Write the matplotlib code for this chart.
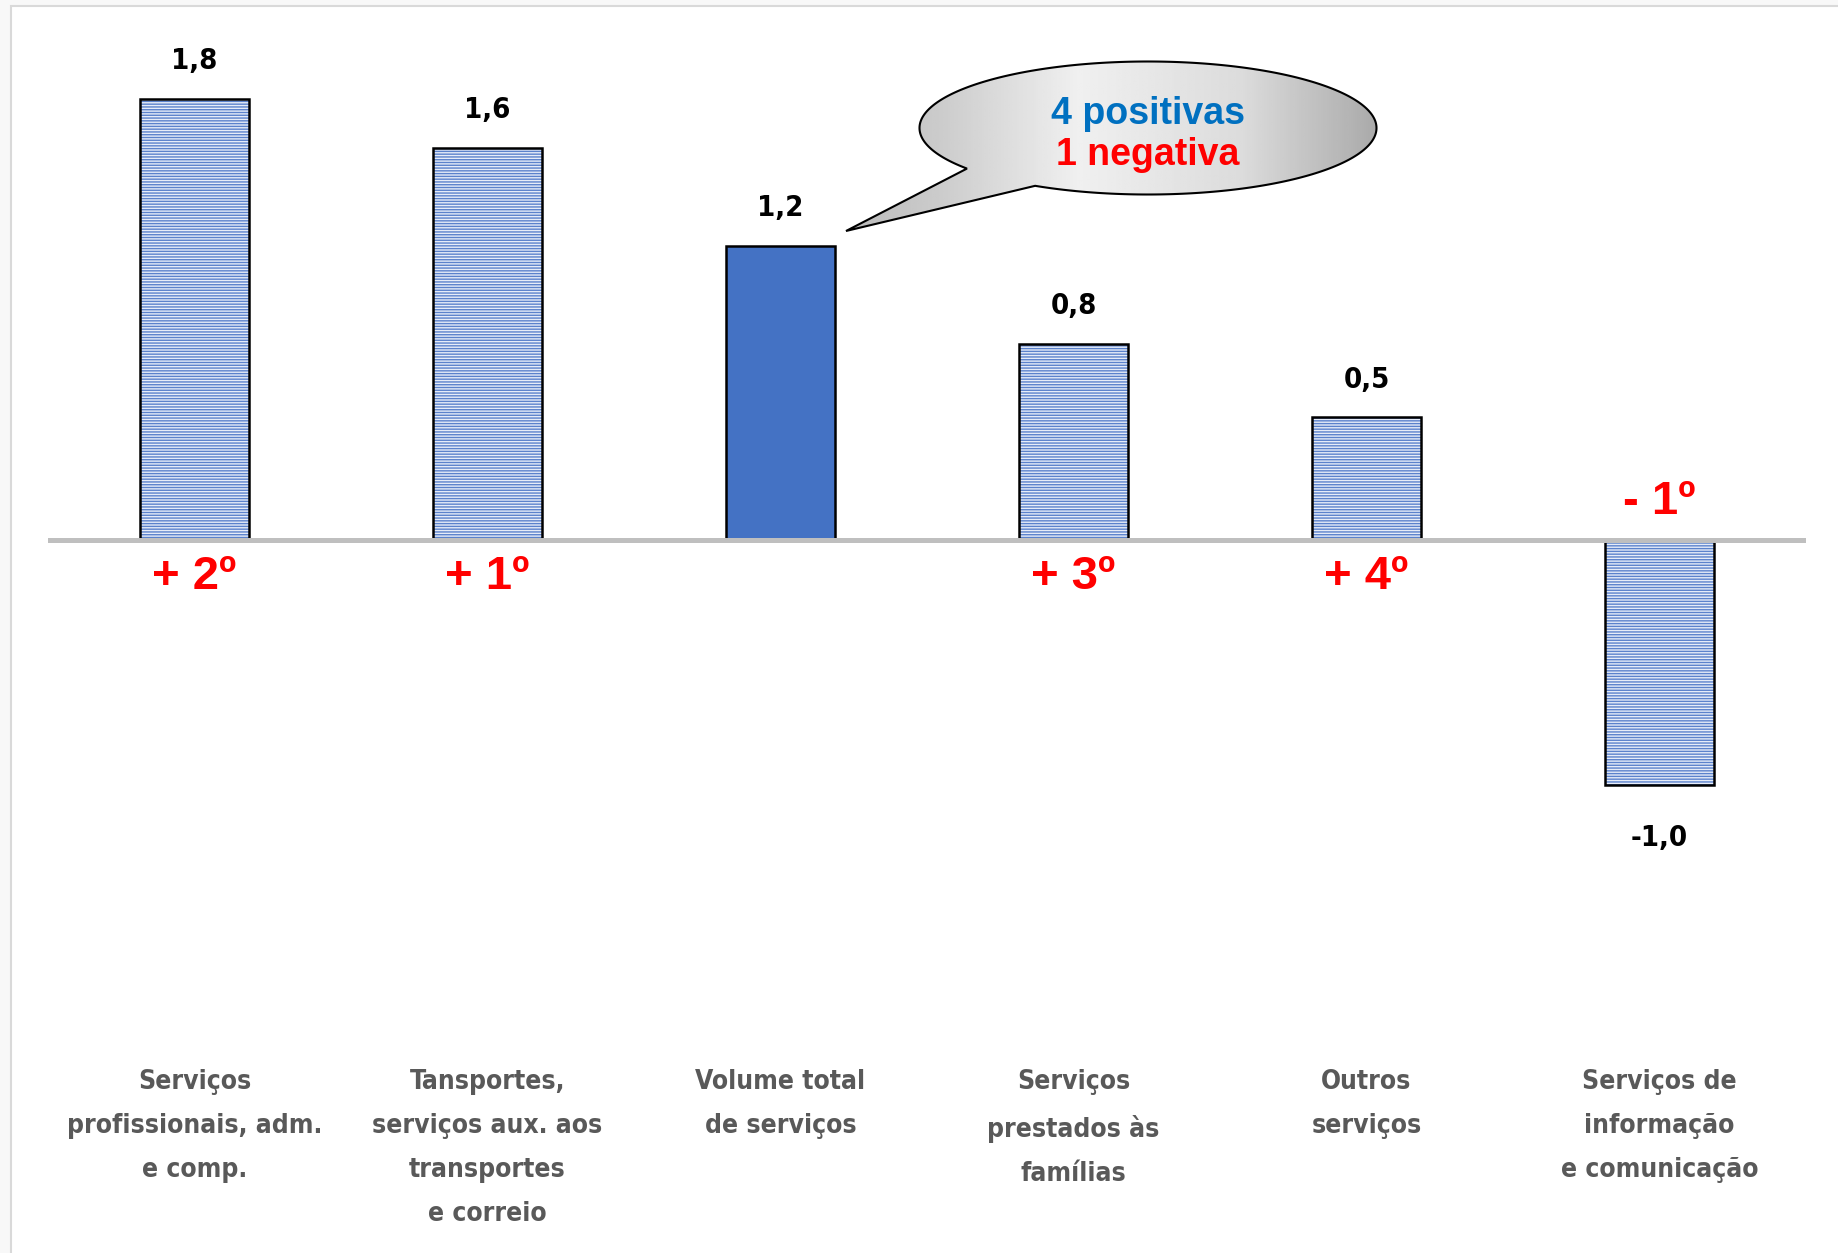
import matplotlib
matplotlib.use("Agg")
import matplotlib.pyplot as plt
import matplotlib.patches as mpatches
from matplotlib import font_manager
import numpy as np

categories = ["Serviços\nprofissionais, adm.\ne comp.",
              "Tansportes,\nserviços aux. aos\ntransportes\ne correio",
              "Volume total\nde serviços",
              "Serviços\nprestados às\nfamílias",
              "Outros\nserviços",
              "Serviços de\ninformação\ne comunicação"]
values = [1.8, 1.6, 1.2, 0.8, 0.5, -1.0]
value_labels = ["1,8", "1,6", "1,2", "0,8", "0,5", "-1,0"]
ranks = ["+ 2º", "+ 1º", "", "+ 3º", "+ 4º", "- 1º"]
total_idx = 2

names = {f.name for f in font_manager.fontManager.ttflist}
narrow = "Liberation Sans Narrow" if "Liberation Sans Narrow" in names else "DejaVu Sans"
arial = "Liberation Sans" if "Liberation Sans" in names else "DejaVu Sans"

W, H = 1838, 1253
fig = plt.figure(figsize=(W / 100, H / 100), dpi=100)
fig.patch.set_facecolor("#f8f8f8")
# white chart area with thin grey border
fig.patches.append(mpatches.Rectangle((11 / W, -0.01), 1, 1.01 - 6 / H, transform=fig.transFigure,
                                      facecolor="white", edgecolor="#d9d9d9", linewidth=1.5,
                                      zorder=-10))

ax = fig.add_axes([48 / W, 1 - 1000 / H, 1758 / W, 980 / H])
ax.set_facecolor("none")
ax.set_xlim(-0.5, 5.5)
ax.set_ylim(-1.878, 2.122)
ax.axis("off")

plt.rcParams["hatch.linewidth"] = 1.0
x = np.arange(len(values))
width = 0.375
for i, v in enumerate(values):
    if i == total_idx:
        ax.bar(x[i], v, width, color="#4472c4", edgecolor="black", linewidth=1.8, zorder=2)
    else:
        ax.bar(x[i], v, width, color="#e6ecf8", edgecolor="#5b82cc", hatch="------",
               linewidth=0, zorder=2)
        ax.bar(x[i], v, width, color="none", edgecolor="black", linewidth=1.8, zorder=3)

ax.axhline(0, color="#bfbfbf", linewidth=3.6, zorder=4)

for i, v in enumerate(values):
    off = 27 if v >= 0 else -38
    ax.annotate(value_labels[i], (x[i], v), xytext=(0, off), textcoords="offset points",
                ha="center", va="center", fontsize=21, fontweight="bold",
                family=narrow, fontstretch="condensed", color="black")
    if ranks[i]:
        roff = -27 if v >= 0 else 27
        ax.annotate(ranks[i], (x[i], 0), xytext=(0, roff), textcoords="offset points",
                    ha="center", va="center", fontsize=34, fontweight="bold",
                    family=arial, color="#ff0000")

for i, c in enumerate(categories):
    fig.text((48 + 293 * (i + 0.5)) / W, 1 - 1069 / H, c, ha="center", va="top",
             fontsize=19, fontweight="bold", family=narrow, fontstretch="condensed",
             color="#595959", linespacing=1.9)

# speech bubble in pixel coordinates
ov = fig.add_axes([0, 0, 1, 1])
ov.set_xlim(0, W)
ov.set_ylim(H, 0)
ov.axis("off")
ov.set_facecolor("none")
cx, cy, a, b = 1148, 128, 228.5, 66.5
t = np.radians(np.linspace(142.4, 479.6, 300))
pts = [(cx + a * np.cos(tt), cy + b * np.sin(tt)) for tt in t]
pts.append((846, 231))
pts.append(pts[0])
bubble = mpatches.Polygon(pts, closed=True, facecolor="none", edgecolor="black",
                          linewidth=1.5, zorder=6)
grad = np.interp(np.linspace(0, 1, 256), [0, 0.2, 0.45, 0.75, 1.0],
                 [0.72, 0.80, 0.94, 0.86, 0.66])
img = ov.imshow(np.tile(grad, (10, 1)), cmap="gray", vmin=0, vmax=1, aspect="auto",
                extent=(830, cx + a + 5, 240, 55), zorder=5)
ov.add_patch(bubble)
img.set_clip_path(bubble)
ov.set_xlim(0, W)
ov.set_ylim(H, 0)
ov.text(cx, 114, "4 positivas", ha="center", va="center", fontsize=27, fontweight="bold",
        family=arial, color="#0070c0", zorder=7)
ov.text(cx, 155, "1 negativa", ha="center", va="center", fontsize=27, fontweight="bold",
        family=arial, color="#ff0000", zorder=7)

fig.savefig("out.png", dpi=100, facecolor=fig.get_facecolor())
